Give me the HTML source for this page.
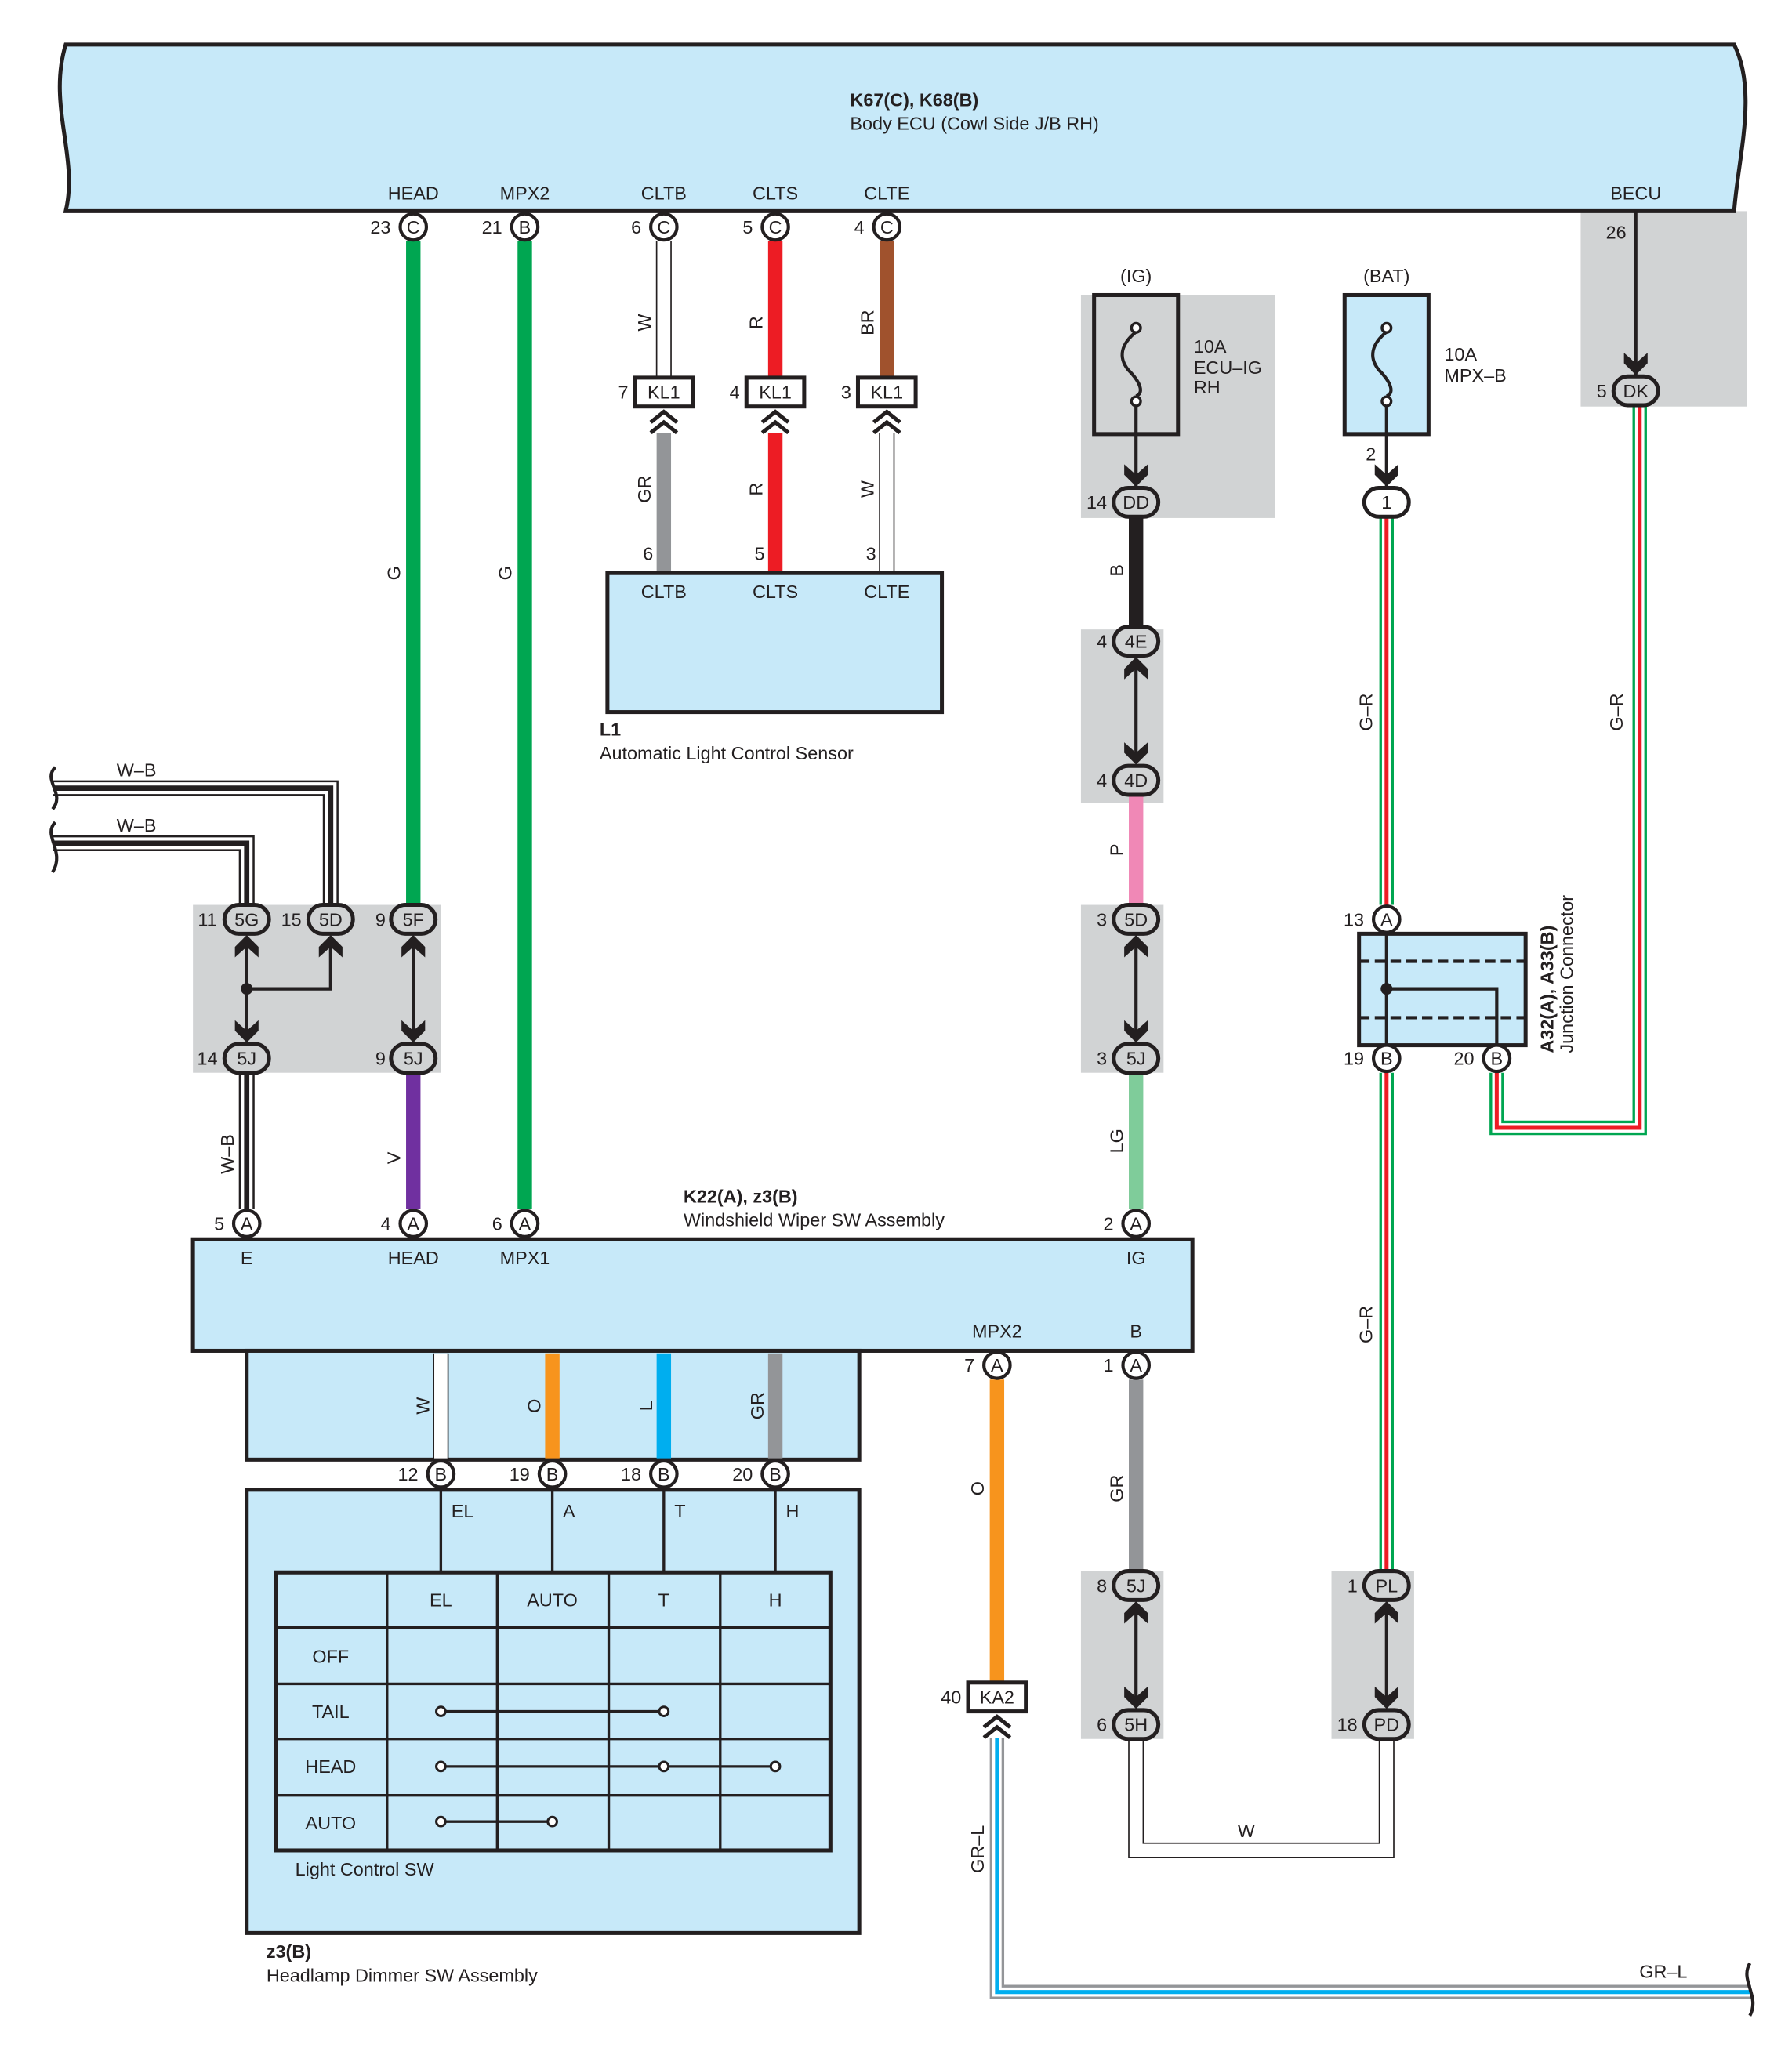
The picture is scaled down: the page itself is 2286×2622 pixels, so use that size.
<!DOCTYPE html>
<html><head><meta charset="utf-8"><style>
html,body{margin:0;padding:0;background:#fff}
svg{display:block}
text{font-family:"Liberation Sans",sans-serif;fill:#231f20;font-size:14px}
.c{text-anchor:middle}
.b{font-weight:bold}
</style></head><body>
<svg width="2286" height="2622" viewBox="0 0 1366 1567" xmlns="http://www.w3.org/2000/svg">
<g fill="#d1d3d4">
<rect x="824" y="225" width="148" height="170"/>
<rect x="1205" y="161" width="127" height="149"/>
<rect x="824" y="480" width="63" height="132"/>
<rect x="824" y="690" width="63" height="128"/>
<rect x="147" y="690" width="189" height="128"/>
<rect x="824" y="1198" width="63" height="128"/>
<rect x="1015" y="1198" width="63" height="128"/>
</g>
<path d="M50,34 L1322,34 C1340,70 1325,120 1322,161 L50,161 C60,120 36,80 50,34 Z" fill="#c7e9f9" stroke="#231f20" stroke-width="3"/>
<text x="648" y="81" class="b">K67(C), K68(B)</text>
<text x="648" y="99">Body ECU (Cowl Side J/B RH)</text>
<text x="315" y="152" class="c">HEAD</text><text x="400" y="152" class="c">MPX2</text>
<text x="506" y="152" class="c">CLTB</text><text x="591" y="152" class="c">CLTS</text>
<text x="676" y="152" class="c">CLTE</text><text x="1247" y="152" class="c">BECU</text>
<g stroke-width="11" fill="none">
<path d="M315,184V690" stroke="#00a651"/>
<path d="M400,184V922" stroke="#00a651"/>
<path d="M591,184V288" stroke="#ed1c24"/>
<path d="M676,184V288" stroke="#a0522d"/>
<path d="M506,330V437" stroke="#939598"/>
<path d="M591,330V437" stroke="#ed1c24"/>
<path d="M866,395V480" stroke="#231f20"/>
<path d="M866,606V690" stroke="#f088b6"/>
<path d="M866,818V922" stroke="#7fcc9a"/>
<path d="M315,818V922" stroke="#7030a0"/>
<path d="M760,1052V1283" stroke="#f7941d"/>
<path d="M866,1052V1198" stroke="#939598"/>
</g>
<g fill="none">
<g stroke="#231f20" stroke-width="12"><path d="M506,184V288"/><path d="M676,330V437"/><path d="M866,1326V1411H1057V1326"/></g>
<g stroke="#fff" stroke-width="10"><path d="M506,184V288"/><path d="M676,330V437"/><path d="M866,1326V1411H1057V1326"/></g>
</g>
<g fill="none">
<g stroke="#231f20" stroke-width="12"><path d="M40,601H252V690"/><path d="M40,643H188V690"/><path d="M188,818V922"/></g>
<g stroke="#fff" stroke-width="9"><path d="M40,601H252V690"/><path d="M40,643H188V690"/><path d="M188,818V922"/></g>
<g stroke="#231f20" stroke-width="4"><path d="M40,601H252V690"/><path d="M40,643H188V690"/><path d="M188,818V922"/></g>
</g>
<g fill="none">
<g stroke="#00a651" stroke-width="11"><path d="M1057,394V690"/><path d="M1141,818V860H1250V310"/><path d="M1057,818V1198"/></g>
<g stroke="#fff" stroke-width="7"><path d="M1057,394V690"/><path d="M1141,818V860H1250V310"/><path d="M1057,818V1198"/></g>
<g stroke="#ed1c24" stroke-width="3"><path d="M1057,394V690"/><path d="M1141,818V860H1250V310"/><path d="M1057,818V1198"/></g>
</g>
<g fill="none">
<path d="M760,1325V1519H1335" stroke="#939598" stroke-width="11"/>
<path d="M760,1325V1519H1335" stroke="#fff" stroke-width="7"/>
<path d="M760,1325V1519H1335" stroke="#00aeef" stroke-width="3"/>
</g>
<g fill="none" stroke="#231f20" stroke-width="2.5">
<path d="M42,585 C32,595 50,605 40,617"/>
<path d="M42,627 C32,637 50,649 40,665"/>
<path d="M1334,1497 C1326,1510 1342,1522 1334,1537"/>
</g>
<rect x="463" y="437" width="255" height="106" fill="#c7e9f9" stroke="#231f20" stroke-width="3"/>
<text x="506" y="456" class="c">CLTB</text><text x="591" y="456" class="c">CLTS</text><text x="676" y="456" class="c">CLTE</text>
<text x="494" y="427" class="c">6</text><text x="579" y="427" class="c">5</text><text x="664" y="427" class="c">3</text>
<text x="457" y="561" class="b">L1</text>
<text x="457" y="579">Automatic Light Control Sensor</text>
<g fill="#fff" stroke="#231f20" stroke-width="3">
<rect x="484" y="288" width="44" height="22"/><rect x="569" y="288" width="44" height="22"/><rect x="654" y="288" width="44" height="22"/>
<rect x="738" y="1283" width="44" height="22"/>
</g>
<text x="506" y="304" class="c">KL1</text><text x="591" y="304" class="c">KL1</text><text x="676" y="304" class="c">KL1</text>
<text x="760" y="1299" class="c">KA2</text>
<text x="475" y="304" class="c">7</text><text x="560" y="304" class="c">4</text><text x="645" y="304" class="c">3</text><text x="725" y="1299" class="c">40</text>
<g fill="none" stroke="#231f20" stroke-width="3">
<path d="M496,322L506,314L516,322M496,330L506,322L516,330"/>
<path d="M581,322L591,314L601,322M581,330L591,322L601,330"/>
<path d="M666,322L676,314L686,322M666,330L676,322L686,330"/>
<path d="M750,1317L760,1309L770,1317M750,1325L760,1317L770,1325"/>
</g>
<rect x="834" y="225" width="64" height="106" fill="none" stroke="#231f20" stroke-width="3"/>
<rect x="1025" y="225" width="64" height="106" fill="#c7e9f9" stroke="#231f20" stroke-width="3"/>
<g fill="none" stroke="#231f20" stroke-width="2.5">
<path d="M866,253 C855,262 852,272 860,282 C870,292 872,300 866,302"/>
<path d="M1057,253 C1046,262 1043,272 1051,282 C1061,292 1063,300 1057,302"/>
<path d="M866,310V375M1057,310V375M1247,161V290"/>
</g>
<g fill="#fff" stroke="#231f20" stroke-width="2"><circle cx="866" cy="250" r="3.5"/><circle cx="866" cy="306" r="3.5"/><circle cx="1057" cy="250" r="3.5"/><circle cx="1057" cy="306" r="3.5"/></g>
<text x="866" y="215" class="c">(IG)</text><text x="1057" y="215" class="c">(BAT)</text>
<text x="910" y="269">10A</text><text x="910" y="285">ECU–IG</text><text x="910" y="300">RH</text>
<text x="1101" y="275">10A</text><text x="1101" y="291">MPX–B</text>
<text x="1045" y="351" class="c">2</text><text x="1232" y="182" class="c">26</text>
<rect x="1036" y="712" width="127" height="85" fill="#c7e9f9" stroke="#231f20" stroke-width="3"/>
<g stroke="#231f20" fill="none" stroke-width="2.5"><path d="M1036,733H1163M1036,776H1163" stroke-dasharray="8,4"/><path d="M1057,712V797M1057,754H1141V797"/></g>
<circle cx="1057" cy="754" r="4.5" fill="#231f20"/>
<text transform="translate(1184,803) rotate(-90)" class="b">A32(A), A33(B)</text>
<text transform="translate(1199,803) rotate(-90)">Junction Connector</text>
<g stroke="#231f20" stroke-width="2.5" fill="none"><path d="M188,720V788M315,720V788M188,754H252V720M866,508V576M866,720V788M866,1228V1296M1057,1228V1296"/></g>
<circle cx="188" cy="754" r="4.5" fill="#231f20"/>
<g fill="#231f20">
<path d="M188,713l9,9v8l-9,-8l-9,8v-8z"/><path d="M252,713l9,9v8l-9,-8l-9,8v-8z"/><path d="M315,713l9,9v8l-9,-8l-9,8v-8z"/>
<path d="M188,795l9,-9v-8l-9,8l-9,-8v8z"/><path d="M315,795l9,-9v-8l-9,8l-9,-8v8z"/>
<path d="M866,501l9,9v8l-9,-8l-9,8v-8z"/><path d="M866,583l9,-9v-8l-9,8l-9,-8v8z"/>
<path d="M866,713l9,9v8l-9,-8l-9,8v-8z"/><path d="M866,795l9,-9v-8l-9,8l-9,-8v8z"/>
<path d="M866,1221l9,9v8l-9,-8l-9,8v-8z"/><path d="M866,1303l9,-9v-8l-9,8l-9,-8v8z"/>
<path d="M1057,1221l9,9v8l-9,-8l-9,8v-8z"/><path d="M1057,1303l9,-9v-8l-9,8l-9,-8v8z"/>
<path d="M866,371l9,-9v-8l-9,8l-9,-8v8z"/><path d="M1057,371l9,-9v-8l-9,8l-9,-8v8z"/><path d="M1247,286l9,-9v-8l-9,8l-9,-8v8z"/>
</g>
<g stroke="#231f20" stroke-width="3">
<g fill="#d1d3d4">
<rect x="171" y="690" width="34" height="22" rx="11"/><rect x="235" y="690" width="34" height="22" rx="11"/><rect x="298" y="690" width="34" height="22" rx="11"/>
<rect x="171" y="796" width="34" height="22" rx="11"/><rect x="298" y="796" width="34" height="22" rx="11"/>
<rect x="849" y="372" width="34" height="22" rx="11"/><rect x="1230" y="287" width="34" height="22" rx="11"/>
<rect x="849" y="478" width="34" height="22" rx="11"/><rect x="849" y="584" width="34" height="22" rx="11"/>
<rect x="849" y="690" width="34" height="22" rx="11"/><rect x="849" y="796" width="34" height="22" rx="11"/>
<rect x="849" y="1198" width="34" height="22" rx="11"/><rect x="849" y="1304" width="34" height="22" rx="11"/>
<rect x="1040" y="1198" width="34" height="22" rx="11"/><rect x="1040" y="1304" width="34" height="22" rx="11"/>
</g>
<rect x="1040" y="372" width="34" height="22" rx="11" fill="#fff"/>
</g>
<text x="188" y="706" class="c">5G</text><text x="252" y="706" class="c">5D</text><text x="315" y="706" class="c">5F</text>
<text x="188" y="812" class="c">5J</text><text x="315" y="812" class="c">5J</text>
<text x="866" y="388" class="c">DD</text><text x="1247" y="303" class="c">DK</text><text x="1057" y="388" class="c">1</text>
<text x="866" y="494" class="c">4E</text><text x="866" y="600" class="c">4D</text>
<text x="866" y="706" class="c">5D</text><text x="866" y="812" class="c">5J</text>
<text x="866" y="1214" class="c">5J</text><text x="866" y="1320" class="c">5H</text>
<text x="1057" y="1214" class="c">PL</text><text x="1057" y="1320" class="c">PD</text>
<text x="158" y="706" class="c">11</text><text x="222" y="706" class="c">15</text><text x="290" y="706" class="c">9</text>
<text x="158" y="812" class="c">14</text><text x="290" y="812" class="c">9</text>
<text x="836" y="388" class="c">14</text><text x="1221" y="303" class="c">5</text>
<text x="840" y="494" class="c">4</text><text x="840" y="600" class="c">4</text>
<text x="840" y="706" class="c">3</text><text x="840" y="812" class="c">3</text>
<text x="840" y="1214" class="c">8</text><text x="840" y="1320" class="c">6</text>
<text x="1031" y="1214" class="c">1</text><text x="1027" y="1320" class="c">18</text>
<rect x="147" y="945" width="762" height="85" fill="#c7e9f9" stroke="#231f20" stroke-width="3"/>
<rect x="188" y="1030" width="467" height="83" fill="#c7e9f9" stroke="#231f20" stroke-width="3"/>
<g stroke-width="11" fill="none">
<path d="M421,1032V1112" stroke="#f7941d"/><path d="M506,1032V1112" stroke="#00aeef"/><path d="M591,1032V1112" stroke="#939598"/>
<path d="M336,1032V1112" stroke="#231f20" stroke-width="12"/><path d="M336,1032V1112" stroke="#fff" stroke-width="10"/>
</g>
<text x="521" y="917" class="b">K22(A), z3(B)</text>
<text x="521" y="935">Windshield Wiper SW Assembly</text>
<text x="188" y="964" class="c">E</text><text x="315" y="964" class="c">HEAD</text><text x="400" y="964" class="c">MPX1</text><text x="866" y="964" class="c">IG</text>
<text x="760" y="1020" class="c">MPX2</text><text x="866" y="1020" class="c">B</text>
<rect x="188" y="1136" width="467" height="338" fill="#c7e9f9" stroke="#231f20" stroke-width="3"/>
<g stroke="#231f20" stroke-width="2" fill="none"><path d="M336,1136V1199M421,1136V1199M506,1136V1199M591,1136V1199"/></g>
<text x="344" y="1157">EL</text><text x="429" y="1157">A</text><text x="514" y="1157">T</text><text x="599" y="1157">H</text>
<rect x="210" y="1199" width="423" height="212" fill="none" stroke="#231f20" stroke-width="3"/>
<g stroke="#231f20" stroke-width="2" fill="none">
<path d="M295,1199V1411M379,1199V1411M464,1199V1411M549,1199V1411M210,1241H633M210,1284H633M210,1326H633M210,1369H633"/>
<path d="M336,1305H506M336,1347H591M336,1389H421"/>
</g>
<g fill="#fff" stroke="#231f20" stroke-width="1.8">
<circle cx="336" cy="1305" r="3.5"/><circle cx="506" cy="1305" r="3.5"/>
<circle cx="336" cy="1347" r="3.5"/><circle cx="506" cy="1347" r="3.5"/><circle cx="591" cy="1347" r="3.5"/>
<circle cx="336" cy="1389" r="3.5"/><circle cx="421" cy="1389" r="3.5"/>
</g>
<text x="336" y="1225" class="c">EL</text><text x="421" y="1225" class="c">AUTO</text><text x="506" y="1225" class="c">T</text><text x="591" y="1225" class="c">H</text>
<text x="252" y="1268" class="c">OFF</text><text x="252" y="1310" class="c">TAIL</text><text x="252" y="1352" class="c">HEAD</text><text x="252" y="1395" class="c">AUTO</text>
<text x="225" y="1430">Light Control SW</text>
<text x="203" y="1493" class="b">z3(B)</text>
<text x="203" y="1511">Headlamp Dimmer SW Assembly</text>
<g fill="#fff" stroke="#231f20" stroke-width="2.5">
<circle cx="315" cy="173" r="10"/><circle cx="400" cy="173" r="10"/><circle cx="506" cy="173" r="10"/><circle cx="591" cy="173" r="10"/><circle cx="676" cy="173" r="10"/>
<circle cx="188" cy="933" r="10"/><circle cx="315" cy="933" r="10"/><circle cx="400" cy="933" r="10"/><circle cx="866" cy="933" r="10"/>
<circle cx="760" cy="1041" r="10"/><circle cx="866" cy="1041" r="10"/>
<circle cx="336" cy="1124" r="10"/><circle cx="421" cy="1124" r="10"/><circle cx="506" cy="1124" r="10"/><circle cx="591" cy="1124" r="10"/>
<circle cx="1057" cy="701" r="10"/><circle cx="1057" cy="807" r="10"/><circle cx="1141" cy="807" r="10"/>
</g>
<g style="font-size:13px">
<text x="315" y="178" class="c">C</text><text x="400" y="178" class="c">B</text><text x="506" y="178" class="c">C</text><text x="591" y="178" class="c">C</text><text x="676" y="178" class="c">C</text>
<text x="188" y="938" class="c">A</text><text x="315" y="938" class="c">A</text><text x="400" y="938" class="c">A</text><text x="866" y="938" class="c">A</text>
<text x="760" y="1046" class="c">A</text><text x="866" y="1046" class="c">A</text>
<text x="336" y="1129" class="c">B</text><text x="421" y="1129" class="c">B</text><text x="506" y="1129" class="c">B</text><text x="591" y="1129" class="c">B</text>
<text x="1057" y="706" class="c">A</text><text x="1057" y="812" class="c">B</text><text x="1141" y="812" class="c">B</text>
</g>
<text x="290" y="178" class="c">23</text><text x="375" y="178" class="c">21</text><text x="485" y="178" class="c">6</text><text x="570" y="178" class="c">5</text><text x="655" y="178" class="c">4</text>
<text x="167" y="938" class="c">5</text><text x="294" y="938" class="c">4</text><text x="379" y="938" class="c">6</text><text x="845" y="938" class="c">2</text>
<text x="739" y="1046" class="c">7</text><text x="845" y="1046" class="c">1</text>
<text x="311" y="1129" class="c">12</text><text x="396" y="1129" class="c">19</text><text x="481" y="1129" class="c">18</text><text x="566" y="1129" class="c">20</text>
<text x="1032" y="706" class="c">13</text><text x="1032" y="812" class="c">19</text><text x="1116" y="812" class="c">20</text>
<text transform="translate(305,437) rotate(-90)" class="c">G</text>
<text transform="translate(390,437) rotate(-90)" class="c">G</text>
<text transform="translate(496,246) rotate(-90)" class="c">W</text>
<text transform="translate(581,246) rotate(-90)" class="c">R</text>
<text transform="translate(666,246) rotate(-90)" class="c">BR</text>
<text transform="translate(496,373) rotate(-90)" class="c">GR</text>
<text transform="translate(581,373) rotate(-90)" class="c">R</text>
<text transform="translate(666,373) rotate(-90)" class="c">W</text>
<text transform="translate(856,435) rotate(-90)" class="c">B</text>
<text transform="translate(856,648) rotate(-90)" class="c">P</text>
<text transform="translate(856,870) rotate(-90)" class="c">LG</text>
<text transform="translate(1046,543) rotate(-90)" class="c">G–R</text>
<text transform="translate(1237,543) rotate(-90)" class="c">G–R</text>
<text transform="translate(1046,1010) rotate(-90)" class="c">G–R</text>
<text transform="translate(305,883) rotate(-90)" class="c">V</text>
<text transform="translate(178,880) rotate(-90)" class="c">W–B</text>
<text transform="translate(327,1072) rotate(-90)" class="c">W</text>
<text transform="translate(412,1072) rotate(-90)" class="c">O</text>
<text transform="translate(497,1072) rotate(-90)" class="c">L</text>
<text transform="translate(582,1072) rotate(-90)" class="c">GR</text>
<text transform="translate(750,1135) rotate(-90)" class="c">O</text>
<text transform="translate(856,1135) rotate(-90)" class="c">GR</text>
<text transform="translate(750,1410) rotate(-90)" class="c">GR–L</text>
<text x="104" y="592" class="c">W–B</text><text x="104" y="634" class="c">W–B</text>
<text x="950" y="1401" class="c">W</text><text x="1268" y="1508" class="c">GR–L</text>
</svg>
</body></html>
